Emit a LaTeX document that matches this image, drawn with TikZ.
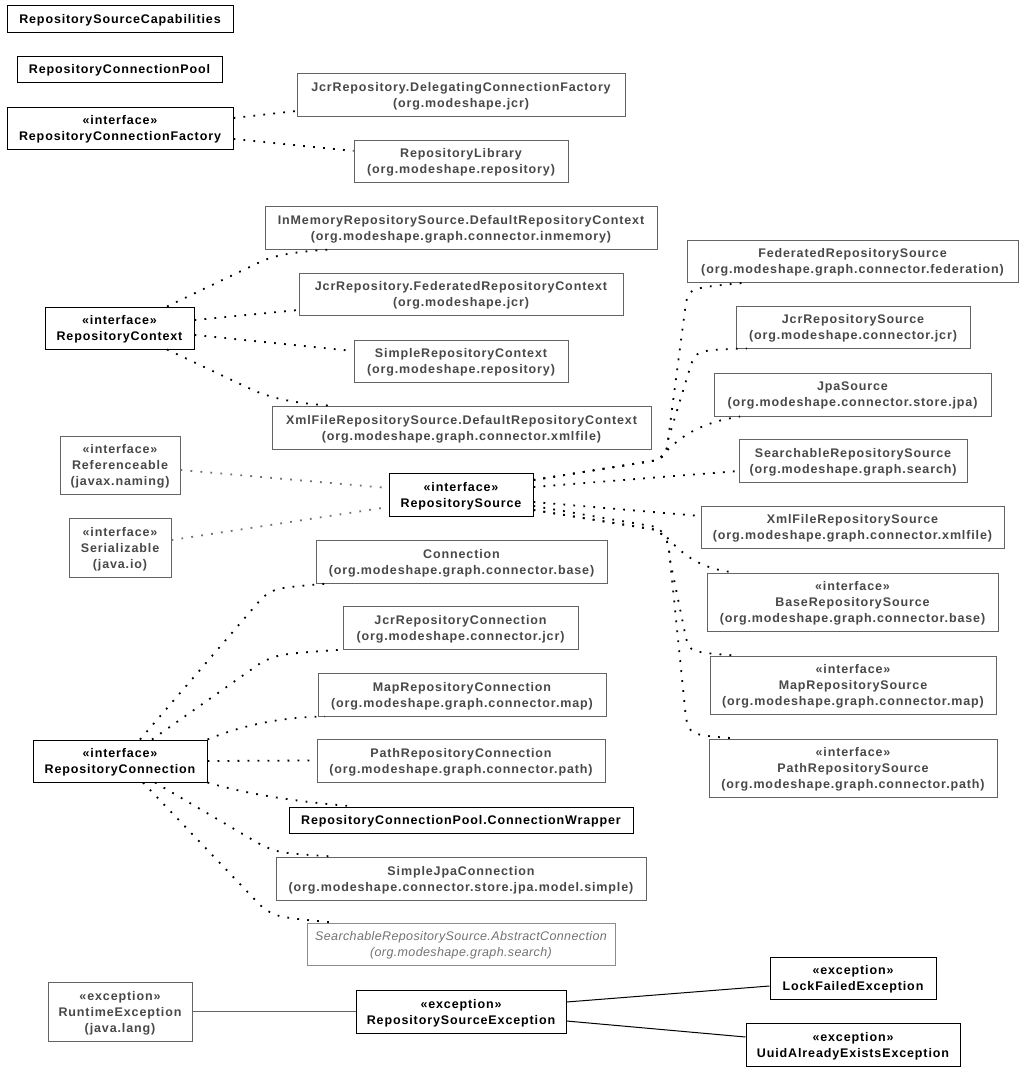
\documentclass[tikz,border=0pt]{standalone}
\usepackage{fontspec}
\setmainfont{Liberation Sans}[LetterSpace=7]
\newfontfamily\umlitfam{Liberation Sans}[LetterSpace=3]
\definecolor{ugtext}{RGB}{72,72,72}
\definecolor{ugbord}{RGB}{100,100,100}
\definecolor{uitext}{RGB}{115,115,115}
\definecolor{uibord}{RGB}{140,140,140}
\definecolor{uglink}{RGB}{115,115,115}
\newcommand{\umlfont}{\fontsize{12.5}{16}\selectfont\bfseries}
\newcommand{\umlitfont}{\umlitfam\fontsize{12.5}{16}\selectfont\itshape}
\begin{document}
\begin{tikzpicture}[x=1pt,y=-1pt,
  umlbox/.style={draw, line width=1pt, inner sep=0pt, align=center, text depth=0pt, font=\umlfont},
  bbox/.style={umlbox, draw=black, text=black},
  gbox/.style={umlbox, draw=ugbord, text=ugtext},
  ibox/.style={umlbox, draw=uibord, text=uitext, font=\umlitfont},
  sz/.style 2 args={minimum width=#1pt, minimum height=#2pt},
  dep/.style={line width=1.8pt, dash pattern=on 1.8pt off 8.2pt, black},
  depg/.style={line width=1.8pt, dash pattern=on 1.8pt off 8.2pt, uglink},
  bline/.style={line width=1pt, black},
  gline/.style={line width=1pt, ugbord}]
\useasboundingbox (0,0) rectangle (1024,1072);
\fill[white] (0,0) rectangle (1024,1072);

% left column
\node[bbox, sz={226}{27}] (cap) at (120,18.5) {RepositorySourceCapabilities};
\node[bbox, sz={205}{26}] (pool) at (119.5,69) {RepositoryConnectionPool};
\node[bbox, sz={226}{42}] (factory) at (120,128) {«interface»\\RepositoryConnectionFactory};
\node[bbox, sz={149}{42}] (ctx) at (119.5,328) {«interface»\\RepositoryContext};
\node[gbox, sz={120}{58}] (refable) at (120,465) {«interface»\\Referenceable\\(javax.naming)};
\node[gbox, sz={102}{59}] (serial) at (120,547.5) {«interface»\\Serializable\\(java.io)};
\node[bbox, sz={174}{42}] (rconn) at (120,761) {«interface»\\RepositoryConnection};
\node[gbox, sz={144}{59}] (runtime) at (120,1011.5) {«exception»\\RuntimeException\\(java.lang)};

% middle column
\node[gbox, sz={328}{43}] (deleg) at (461,94.5) {JcrRepository.DelegatingConnectionFactory\\(org.modeshape.jcr)};
\node[gbox, sz={214}{42}] (lib) at (461,161) {RepositoryLibrary\\(org.modeshape.repository)};
\node[gbox, sz={392}{43}] (inmem) at (461,227.5) {InMemoryRepositorySource.DefaultRepositoryContext\\(org.modeshape.graph.connector.inmemory)};
\node[gbox, sz={324}{42}] (fedctx) at (461,294) {JcrRepository.FederatedRepositoryContext\\(org.modeshape.jcr)};
\node[gbox, sz={214}{42}] (simplectx) at (461,361) {SimpleRepositoryContext\\(org.modeshape.repository)};
\node[gbox, sz={379}{43}] (xmlctx) at (461.5,427.5) {XmlFileRepositorySource.DefaultRepositoryContext\\(org.modeshape.graph.connector.xmlfile)};
\node[bbox, sz={144}{43}] (src) at (461,494.5) {«interface»\\RepositorySource};
\node[gbox, sz={291}{43}] (conn) at (461.5,561.5) {Connection\\(org.modeshape.graph.connector.base)};
\node[gbox, sz={235}{43}] (jcrconn) at (460.5,627.5) {JcrRepositoryConnection\\(org.modeshape.connector.jcr)};
\node[gbox, sz={288}{43}] (mapconn) at (462,694.5) {MapRepositoryConnection\\(org.modeshape.graph.connector.map)};
\node[gbox, sz={288}{43}] (pathconn) at (461,760.5) {PathRepositoryConnection\\(org.modeshape.graph.connector.path)};
\node[bbox, sz={344}{26}] (wrapper) at (461,820) {RepositoryConnectionPool.ConnectionWrapper};
\node[gbox, sz={370}{43}] (jpaconn) at (461,878.5) {SimpleJpaConnection\\(org.modeshape.connector.store.jpa.model.simple)};
\node[ibox, sz={308}{42}] (abstract) at (461,944) {SearchableRepositorySource.AbstractConnection\\(org.modeshape.graph.search)};
\node[bbox, sz={210}{43}] (rse) at (461,1011.5) {«exception»\\RepositorySourceException};

% right column
\node[gbox, sz={331}{42}] (fedsrc) at (852.5,261) {FederatedRepositorySource\\(org.modeshape.graph.connector.federation)};
\node[gbox, sz={234}{42}] (jcrsrc) at (853,327) {JcrRepositorySource\\(org.modeshape.connector.jcr)};
\node[gbox, sz={277}{43}] (jpa) at (852.5,394.5) {JpaSource\\(org.modeshape.connector.store.jpa)};
\node[gbox, sz={228}{43}] (searchsrc) at (853,460.5) {SearchableRepositorySource\\(org.modeshape.graph.search)};
\node[gbox, sz={303}{42}] (xmlsrc) at (852.5,527) {XmlFileRepositorySource\\(org.modeshape.graph.connector.xmlfile)};
\node[gbox, sz={291}{58}] (basesrc) at (852.5,602) {«interface»\\BaseRepositorySource\\(org.modeshape.graph.connector.base)};
\node[gbox, sz={286}{58}] (mapsrc) at (853,685) {«interface»\\MapRepositorySource\\(org.modeshape.graph.connector.map)};
\node[gbox, sz={288}{58}] (pathsrc) at (853,768) {«interface»\\PathRepositorySource\\(org.modeshape.graph.connector.path)};
\node[bbox, sz={166}{42}] (lock) at (853,978) {«exception»\\LockFailedException};
\node[bbox, sz={214}{43}] (uuid) at (853,1044.5) {«exception»\\UuidAlreadyExistsException};

% factory
\draw[dep] ([yshift=10pt]factory.east) -- ([yshift=-16.5pt]deleg.west);
\draw[dep] ([yshift=-11pt]factory.east) -- ([yshift=10pt]lib.west);
% context
\draw[dep] ([xshift=47.5pt]ctx.north) -- (258,263) .. controls (272,256) and (290,252) .. ([xshift=-131pt]inmem.south);
\draw[dep] ([yshift=8pt]ctx.east) -- ([yshift=-16pt]fedctx.west);
\draw[dep] ([yshift=-7pt]ctx.east) -- ([yshift=10pt]simplectx.west);
\draw[dep] ([xshift=47.5pt]ctx.south) -- (255,391) .. controls (275,399) and (295,403) .. ([xshift=-133.5pt]xmlctx.north);
% referenceable / serializable
\draw[depg] ([yshift=-5pt]refable.east) -- ([yshift=6.5pt]src.west);
\draw[depg] ([yshift=7.5pt]serial.east) -- ([yshift=-12.5pt]src.west);
% repository source implementations
\draw[dep] ([yshift=14.5pt]src.east) -- (658,460) .. controls (666,454) .. (668,440) -- (686,302) .. controls (690,288) .. ([xshift=-105.5pt]fedsrc.south);
\draw[dep] ([yshift=14.5pt]src.east) -- (658,460) .. controls (666,454) .. (668,440) -- (690,368) .. controls (696,350) .. ([xshift=-106pt]jcrsrc.south);
\draw[dep] ([yshift=14.5pt]src.east) -- (658,460) .. controls (672,445) and (690,424) .. ([xshift=-112.5pt]jpa.south);
\draw[dep] ([yshift=7.5pt]src.east) -- ([yshift=-10.5pt]searchsrc.west);
\draw[dep] ([yshift=-7.5pt]src.east) -- ([yshift=11pt]xmlsrc.west);
\draw[dep] ([yshift=-11.5pt]src.east) -- (657,527) .. controls (675,545) and (690,568) .. ([xshift=-117.5pt]basesrc.north);
\draw[dep] ([yshift=-15.5pt]src.east) -- (657,530) .. controls (668,540) .. (670,560) -- (686,638) .. controls (690,652) .. ([xshift=-118pt]mapsrc.north);
\draw[dep] ([yshift=-15.5pt]src.east) -- (657,530) .. controls (668,540) .. (670,560) -- (686,718) .. controls (690,735) .. ([xshift=-116pt]pathsrc.north);
% repository connection implementations
\draw[dep] ([xshift=20pt]rconn.north) -- (262,598) .. controls (275,588) .. ([xshift=-133.5pt]conn.south);
\draw[dep] ([xshift=32pt]rconn.north) -- (262,662) .. controls (280,654) .. ([xshift=-117.5pt]jcrconn.south);
\draw[dep] (rconn.north east) .. controls (245,724) and (285,717) .. ([xshift=-137pt]mapconn.south);
\draw[dep] (rconn.east) -- (pathconn.west);
\draw[dep] (rconn.south east) .. controls (250,795) and (300,802) .. ([xshift=-106pt]wrapper.north);
\draw[dep] ([xshift=35pt]rconn.south) -- (258,843) .. controls (278,853) .. ([xshift=-128pt]jpaconn.north);
\draw[dep] ([xshift=23pt]rconn.south) -- (260,905) .. controls (275,917) .. ([xshift=-128pt]abstract.north);
% exceptions
\draw[gline] (runtime.east) -- (rse.west);
\draw[bline] ([yshift=9.5pt]rse.east) -- ([yshift=-8pt]lock.west);
\draw[bline] ([yshift=-9.5pt]rse.east) -- ([yshift=7.5pt]uuid.west);
\end{tikzpicture}
\end{document}
